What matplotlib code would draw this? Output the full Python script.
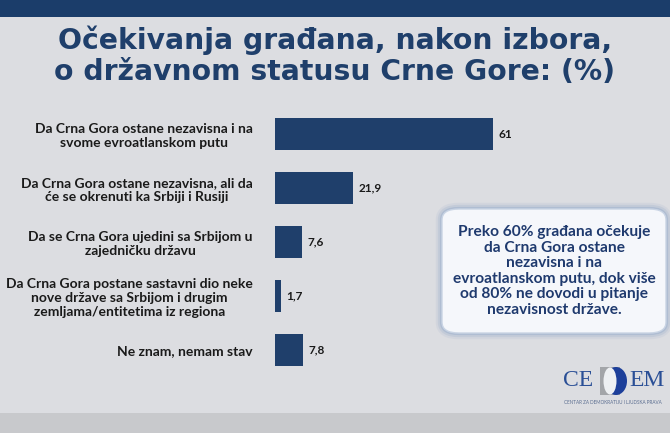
import matplotlib.pyplot as plt
from matplotlib.patches import FancyBboxPatch, Rectangle, Ellipse

# podaci
kategorije = [
    'Da Crna Gora ostane nezavisna i na\nsvome evroatlanskom putu',
    'Da Crna Gora ostane nezavisna, ali da\nće se okrenuti ka Srbiji i Rusiji',
    'Da se Crna Gora ujedini sa Srbijom u\nzajedničku državu',
    'Da Crna Gora postane sastavni dio neke\nnove države sa Srbijom i drugim\nzemljama/entitetima iz regiona',
    'Ne znam, nemam stav',
]
vrijednosti = [61, 21.9, 7.6, 1.7, 7.8]
oznake = ['61', '21,9', '7,6', '1,7', '7,8']

naslov = 'Očekivanja građana, nakon izbora,\no državnom statusu Crne Gore: (%)'
poruka = ('Preko 60% građana očekuje\nda Crna Gora ostane\nnezavisna i na\n'
          'evroatlanskom putu, dok više\nod 80% ne dovodi u pitanje\nnezavisnost države.')

W, H = 670, 433
plava = '#1f3f6b'
pozadina = '#dcdde1'

plt.rcParams['font.family'] = ['Lato', 'DejaVu Sans']

fig = plt.figure(figsize=(W / 100, H / 100), dpi=100)
fig.patch.set_facecolor(pozadina)

# gornja i donja traka
fig.patches.append(Rectangle((0, 1 - 17 / H), 1, 17 / H, transform=fig.transFigure,
                             facecolor='#1b3d6a', edgecolor='none'))
fig.patches.append(Rectangle((0, 0), 1, 20 / H, transform=fig.transFigure,
                             facecolor='#c8c9cc', edgecolor='none'))

fig.text(0.5, 1 - 56 / H, naslov, ha='center', va='center', fontsize=20.3,
         fontweight='bold', color=plava, linespacing=1.15,
         family=['DejaVu Sans'])

# osa za stubove: x od 275 do 632 px, y od 107 do 377 px
ax = fig.add_axes([275 / W, 1 - 377 / H, 357 / W, 270 / H])
ax.set_facecolor('none')
y = list(range(len(vrijednosti)))
ax.barh(y, vrijednosti, height=0.58, color=plava)
ax.set_xlim(0, 100)
ax.set_ylim(len(vrijednosti) - 0.5, -0.5)
for sp in ax.spines.values():
    sp.set_visible(False)
ax.set_xticks([])
ax.set_yticks(y)
ax.set_yticklabels(kategorije, fontsize=10.0, fontweight='bold', color='#1a1a1a',
                   linespacing=1.18, ha='right', multialignment='center')
ax.tick_params(axis='y', length=0, pad=16)
for yi, v, t in zip(y, vrijednosti, oznake):
    ax.text(v + 1.5, yi, t, va='center', ha='left', fontsize=8.5,
            fontweight='bold', color='#1a1a1a')

# okvir s porukom (sjena + okvir)
for lw, alpha in [(9, 0.12), (6, 0.2), (3, 0.35)]:
    fig.patches.append(FancyBboxPatch((442 / W, 1 - 333 / H), 224 / W, 124 / H,
                                      boxstyle='round,pad=0,rounding_size=0.025',
                                      transform=fig.transFigure, facecolor='none',
                                      edgecolor='#8aa3c8', linewidth=lw, alpha=alpha))
okvir = FancyBboxPatch((442 / W, 1 - 333 / H), 224 / W, 124 / H,
                       boxstyle='round,pad=0,rounding_size=0.025',
                       transform=fig.transFigure, facecolor='#f5f7fb',
                       edgecolor='#c9d4e4', linewidth=1)
fig.patches.append(okvir)
fig.text(554 / W, 1 - 271 / H, poruka, ha='center', va='center', fontsize=11.2,
         fontweight='bold', color='#1f3a6e', linespacing=1.13)

# logo
fig.text(563 / W, 1 - 381 / H, 'CE', ha='left', va='center', fontsize=17,
         family='Liberation Serif', color='#2a4f96')
fig.patches.append(Rectangle((600 / W, 1 - 395 / H), 20 / W, 28 / H,
                             transform=fig.transFigure, facecolor='#a3a5a9',
                             edgecolor='none'))
fig.patches.append(Ellipse((616 / W, 1 - 381 / H), 22 / W, 28 / H,
                           transform=fig.transFigure, facecolor='#1d3f9a',
                           edgecolor='none'))
fig.patches.append(Ellipse((610 / W, 1 - 381 / H), 13 / W, 27 / H,
                           transform=fig.transFigure, facecolor='#eef0f3',
                           edgecolor='none'))
fig.text(629 / W, 1 - 381 / H, 'EM', ha='left', va='center', fontsize=17,
         family='Liberation Serif', color='#2a4f96')
fig.text(564 / W, 1 - 403 / H, 'CENTAR ZA DEMOKRATIJU I LJUDSKA PRAVA', ha='left',
         va='center', fontsize=3.3, color='#5a6d90')

fig.savefig('out.png', dpi=100, facecolor=fig.get_facecolor())
